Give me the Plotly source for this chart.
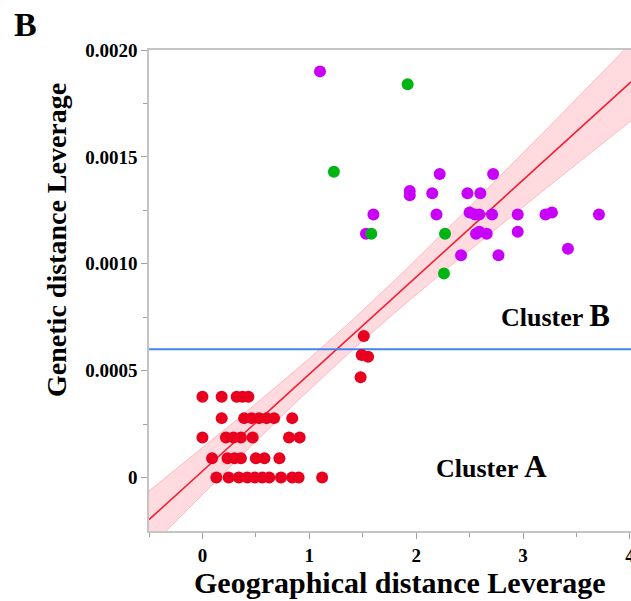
import numpy as np
import plotly.graph_objects as go

# ---------------- data ----------------
# Cluster A (red) points: rows of genetic distance levels
red_x = [0.0, 0.18, 0.32, 0.375, 0.43,
         0.18, 0.39, 0.46, 0.53, 0.60, 0.67, 0.84,
         0.0, 0.22, 0.29, 0.36, 0.47, 0.81, 0.91,
         0.09, 0.235, 0.30, 0.36, 0.50, 0.58, 0.72,
         0.13, 0.245, 0.34, 0.42, 0.49, 0.56, 0.625, 0.735, 0.84, 0.90, 1.12,
         1.51, 1.49, 1.55, 1.48]
red_y = [0.000378] * 5 + [0.000278] * 7 + [0.000187] * 7 + [0.000090] * 7 + [0.0] * 11 + \
        [0.000662, 0.000573, 0.000565, 0.000469]

purple_x = [1.10, 2.22, 2.72, 1.94, 1.94, 2.15, 2.48, 2.60, 1.60, 2.19, 2.50, 2.55, 2.59,
            2.71, 2.95, 3.21, 3.27, 3.71, 1.53, 2.59, 2.56, 2.66, 2.95, 2.42, 2.77, 3.42]
purple_y = [0.00190, 0.00142, 0.00142, 0.00134, 0.00132, 0.00133, 0.00133, 0.00133, 0.00123,
            0.00123, 0.00124, 0.00123, 0.00123, 0.00123, 0.00123, 0.00123, 0.00124, 0.00123,
            0.00114, 0.00115, 0.00114, 0.00114, 0.00115, 0.00104, 0.00104, 0.00107]

green_x = [1.92, 1.23, 1.58, 2.27, 2.26]
green_y = [0.00184, 0.00143, 0.00114, 0.00114, 0.000955]

# fitted regression line and its confidence band
fit_slope = 0.000454
fit_intercept = 0.000030
ci_center_x = 1.33
ci_min_halfwidth = 0.0000701
ci_spread = 0.0000625
cluster_threshold = 0.0006

x_tickvals = [0, 1, 2, 3, 4]
x_ticktext = ["0", "1", "2", "3", "4"]
y_tickvals = [0, 0.0005, 0.0010, 0.0015, 0.0020]
y_ticktext = ["0", "0.0005", "0.0010", "0.0015", "0.0020"]

# ---------------- figure ----------------
FONT = "Liberation Serif, Times New Roman, serif"
xr = [-0.5, 4.01]
yr = [-0.00025, 0.0020]

xs = np.linspace(xr[0], xr[1], 200)
fit = fit_intercept + fit_slope * xs
hw = np.sqrt(ci_min_halfwidth ** 2 + (ci_spread * (xs - ci_center_x)) ** 2)

fig = go.Figure()
fig.add_trace(go.Scatter(x=xs, y=fit - hw, mode="lines",
                         line=dict(color="rgba(255,120,140,0.45)", width=1),
                         hoverinfo="skip", showlegend=False))
fig.add_trace(go.Scatter(x=xs, y=fit + hw, mode="lines", fill="tonexty",
                         fillcolor="rgba(255,0,30,0.14)",
                         line=dict(color="rgba(255,120,140,0.45)", width=1),
                         hoverinfo="skip", showlegend=False))
fig.add_trace(go.Scatter(x=xs, y=fit, mode="lines",
                         line=dict(color="#f02035", width=1.6),
                         hoverinfo="skip", showlegend=False))
fig.add_trace(go.Scatter(x=[xr[0], xr[1]], y=[cluster_threshold] * 2, mode="lines",
                         line=dict(color="#3f86f0", width=2),
                         hoverinfo="skip", showlegend=False))

mk = dict(size=12, line=dict(width=0))
fig.add_trace(go.Scatter(x=red_x, y=red_y, mode="markers",
                         marker=dict(color="#e8001e", **mk), showlegend=False))
fig.add_trace(go.Scatter(x=purple_x, y=purple_y, mode="markers",
                         marker=dict(color="#c800fa", **mk), showlegend=False))
fig.add_trace(go.Scatter(x=green_x, y=green_y, mode="markers",
                         marker=dict(color="#00b414", **mk), showlegend=False))

axis_common = dict(showgrid=False, zeroline=False, showline=True, linecolor="#c4c4c4",
                   linewidth=1.5, ticks="outside", tickcolor="#a0a0a0",
                   ticklen=6, tickwidth=1, ticklabeloverflow="allow", automargin=False,
                   tickfont=dict(family=FONT, size=19, color="black", weight="bold"))

fig.update_xaxes(range=xr, tickvals=x_tickvals, ticktext=x_ticktext, mirror=True,
                 minor=dict(tickvals=[-0.5, 0.5, 1.5, 2.5, 3.5], ticks="outside",
                            ticklen=4, tickcolor="#a0a0a0"),
                 **axis_common)
fig.update_yaxes(range=yr, tickvals=y_tickvals, ticktext=y_ticktext, mirror=False,
                 minor=dict(tickvals=[0.00025, 0.00075, 0.00125, 0.00175], ticks="outside",
                            ticklen=4, tickcolor="#a0a0a0"),
                 **axis_common)

bold = dict(family=FONT, color="black", weight="bold")
fig.add_annotation(x=0.521, y=-0.108, xref="paper", yref="paper", showarrow=False,
                   text="Geographical distance Leverage", font=dict(size=30, **bold),
                   xanchor="center", yanchor="middle")
fig.add_annotation(x=-0.191, y=0.605, xref="paper", yref="paper", showarrow=False,
                   text="Genetic distance Leverage", textangle=-90,
                   font=dict(size=28, **bold), xanchor="center", yanchor="middle")
fig.add_annotation(x=-0.257, y=1.054, xref="paper", yref="paper", showarrow=False,
                   text="B", font=dict(size=34, **bold), xanchor="center", yanchor="middle")
fig.add_annotation(x=3.30, y=0.000756, showarrow=False,
                   text="Cluster <span style='font-size:31px'>B</span>",
                   font=dict(size=26, **bold), xanchor="center", yanchor="middle")
fig.add_annotation(x=2.70, y=0.000053, showarrow=False,
                   text="Cluster <span style='font-size:31px'>A</span>",
                   font=dict(size=26, **bold), xanchor="center", yanchor="middle")

fig.update_layout(width=631, height=601, margin=dict(l=149, r=0, t=50, b=70),
                  plot_bgcolor="white", paper_bgcolor="white")

fig.write_html("out.html", config={"displayModeBar": False},
               post_script="document.body.style.margin='0';document.body.style.overflow='hidden';")
